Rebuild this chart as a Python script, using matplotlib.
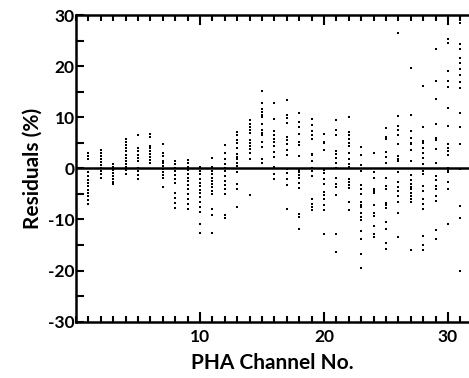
import matplotlib
matplotlib.use("Agg")
import matplotlib.pyplot as plt
from matplotlib.ticker import MultipleLocator

plt.rcParams['font.family'] = ['Lato', 'DejaVu Sans']

# Residuals (%) read per PHA channel
ch01 = [3.1, 2.5, 1.8, -0.8, -1.5, -2.2, -2.9, -3.5, -4.2, -4.8, -5.5, -6.1, -7.0]
ch02 = [3.6, 3.0, 2.4, 1.8, 1.2, 0.6, 0.0, -0.6, -1.2, -1.8]
ch03 = [0.9, 0.3, -0.3, -0.9, -1.5, -2.1, -2.6, -3.1]
ch04 = [5.7, 5.1, 4.5, 3.9, 3.3, 2.7, 2.1, 1.5, 0.9, 0.3, -0.3, -1.2]
ch05 = [6.5, 3.9, 3.3, 2.7, 2.1, 1.4, 0.1, -0.6, -1.3, -2.0]
ch06 = [6.8, 6.1, 4.4, 3.9, 3.3, 2.8, 2.2, 1.6, 1.1]
ch07 = [4.7, 3.1, 2.5, 1.5, 1.0, 0.4, -0.2, -0.8, -1.3, -1.8, -3.6]
ch08 = [1.4, 0.8, 0.1, -0.6, -1.3, -2.0, -2.8, -4.8, -5.8, -6.8, -7.7]
ch09 = [1.6, 1.0, 0.3, -0.4, -1.1, -1.8, -2.5, -3.3, -4.1, -5.1, -6.0, -7.0, -8.0]
ch10 = [0.3, -0.5, -1.2, -2.0, -2.8, -3.5, -4.2, -4.9, -5.6, -6.5, -7.5, -8.5, -10.8, -12.6]
ch11 = [2.0, 0.3, -0.5, -1.2, -1.9, -2.5, -3.1, -3.7, -4.4, -5.1, -8.0, -9.2, -12.7]
ch12 = [4.5, 3.1, 1.8, 0.8, 0.0, -0.5, -1.5, -2.5, -3.2, -4.0, -5.1, -9.2, -9.8]
ch13 = [7.2, 6.5, 5.6, 4.9, 3.9, 2.9, 2.3, 1.8, 1.1, 0.5, -0.7, -3.1, -4.1, -7.5]
ch14 = [9.4, 8.6, 8.0, 7.5, 7.0, 5.6, 5.0, 4.4, 3.8, 3.1, 1.9, -5.2]
ch15 = [15.1, 12.7, 11.7, 11.0, 10.5, 10.1, 8.6, 7.6, 7.0, 6.5, 5.2, 4.2, 1.8, 1.1]
ch16 = [12.7, 9.6, 7.3, 6.5, 5.8, 5.2, 4.4, 3.2, 2.2, 0.3, -1.2, -2.0]
ch17 = [13.4, 10.4, 9.8, 8.9, 6.2, 5.5, 4.7, 3.6, 2.7, -0.2, -1.0, -2.0, -3.3, -8.0]
ch18 = [10.9, 9.1, 8.0, 6.7, 5.2, 4.5, 2.4, -0.3, -0.8, -1.3, -1.8, -2.8, -3.9, -9.0, -9.6, -11.8]
ch19 = [9.6, 8.5, 7.4, 6.5, 5.8, 2.9, 2.6, 1.4, 0.0, -0.5, -1.5, -5.9, -7.0, -7.5, -8.1]
ch20 = [6.7, 5.2, 4.9, 3.6, -0.3, -1.0, -2.0, -3.1, -4.6, -5.2, -5.9, -7.2, -8.1, -12.9]
ch21 = [9.5, 7.5, 6.5, 3.4, 2.8, 2.1, 1.0, 0.1, -1.8, -3.0, -3.6, -5.2, -12.9, -16.3]
ch22 = [10.1, 7.2, 6.5, 5.7, 5.0, 4.4, 3.1, 1.8, 0.8, 0.3, -2.0, -2.7, -3.2, -3.8, -6.5, -8.2]
ch23 = [4.2, 2.7, 0.6, -0.6, -3.3, -4.0, -5.1, -6.6, -7.2, -7.5, -8.8, -9.5, -10.1, -12.3, -13.9, -16.8, -19.4]
ch24 = [3.1, -0.8, -1.8, -4.0, -4.5, -4.9, -7.2, -8.8, -9.3, -11.3, -12.9, -13.4]
ch25 = [7.8, 6.2, 5.7, 3.2, 2.2, 1.1, -1.8, -3.4, -4.1, -6.7, -7.2, -7.8, -10.5, -11.8, -14.7, -15.8]
ch26 = [26.4, 10.3, 8.3, 7.5, 6.5, 4.7, 2.4, 1.8, 1.4, -0.8, -2.7, -3.6, -4.4, -5.4, -6.5, -8.8, -13.4]
ch27 = [19.7, 10.4, 7.3, 5.9, 5.0, 4.7, 3.6, 1.4, -1.3, -2.2, -3.1, -3.6, -4.1, -4.8, -5.5, -6.0, -6.5, -16.0]
ch28 = [16.1, 8.0, 5.4, 5.0, 4.0, 3.1, 2.1, 0.8, -0.5, -1.2, -3.4, -4.4, -6.0, -7.0, -7.9, -13.2, -14.9, -15.9]
ch29 = [23.3, 17.0, 13.5, 8.6, 6.0, 5.5, 3.7, 1.0, -1.4, -2.2, -3.4, -4.1, -5.4, -6.4, -12.1, -13.9]
ch30 = [28.3, 25.4, 24.5, 19.1, 17.1, 16.0, 11.9, 8.3, 4.7, 4.0, 3.4, 2.7, 0.1, -0.4, -0.8, -2.7, -4.1, -10.8]
ch31 = [28.5, 24.3, 23.3, 21.5, 20.7, 19.4, 18.3, 16.8, 15.8, 10.8, 8.0, 4.7, -0.1, -7.4, -9.8, -20.1]

channels = list(range(1, 32))
residuals = [ch01, ch02, ch03, ch04, ch05, ch06, ch07, ch08, ch09, ch10,
             ch11, ch12, ch13, ch14, ch15, ch16, ch17, ch18, ch19, ch20,
             ch21, ch22, ch23, ch24, ch25, ch26, ch27, ch28, ch29, ch30, ch31]

x_label = "PHA Channel No."
y_label = "Residuals (%)"
y_ticks = [-30, -20, -10, 0, 10, 20, 30]
y_tick_labels = ['-30', '-20', '-10', '0', '10', '20', '30']
x_ticks = [10, 20, 30]

fig = plt.figure(figsize=(4.69, 3.78), dpi=100)
ax = fig.add_axes([76 / 469, 1 - 321.7 / 378, 1 - 76 / 469, (321.7 - 15) / 378])

xs, ys = [], []
for c, vals in zip(channels, residuals):
    xs.extend([c] * len(vals))
    ys.extend(vals)
ax.scatter(xs, ys, s=4.5, marker='s', color='black', linewidths=0)

ax.axhline(0, color='black', lw=1.8)

ax.set_xlim(0, 31.7)
ax.set_ylim(-30, 30)

ax.spines['right'].set_visible(False)
for s in ['left', 'top', 'bottom']:
    ax.spines[s].set_linewidth(1.8)

ax.xaxis.set_major_locator(MultipleLocator(10))
ax.xaxis.set_minor_locator(MultipleLocator(1))
ax.yaxis.set_major_locator(MultipleLocator(10))
ax.yaxis.set_minor_locator(MultipleLocator(5))
ax.tick_params(axis='x', which='both', direction='in', top=True, bottom=True,
               width=1.5, labelsize=12.5, pad=5)
ax.tick_params(axis='x', which='major', length=7)
ax.tick_params(axis='x', which='minor', length=4)
ax.tick_params(axis='y', which='both', direction='in', left=True, right=False,
               width=1.5, labelsize=12.5, pad=1)
ax.tick_params(axis='y', which='major', length=6)
ax.tick_params(axis='y', which='minor', length=6)

ax.set_xticks(x_ticks)
ax.set_yticks(y_ticks)
ax.set_yticklabels(y_tick_labels)
for lab in ax.get_xticklabels() + ax.get_yticklabels():
    lab.set_fontweight('bold')

ax.set_xlabel(x_label, fontsize=15, fontweight='bold', labelpad=6)
ax.set_ylabel(y_label, fontsize=15, fontweight='bold', labelpad=4)

fig.savefig("out.png", dpi=100)
